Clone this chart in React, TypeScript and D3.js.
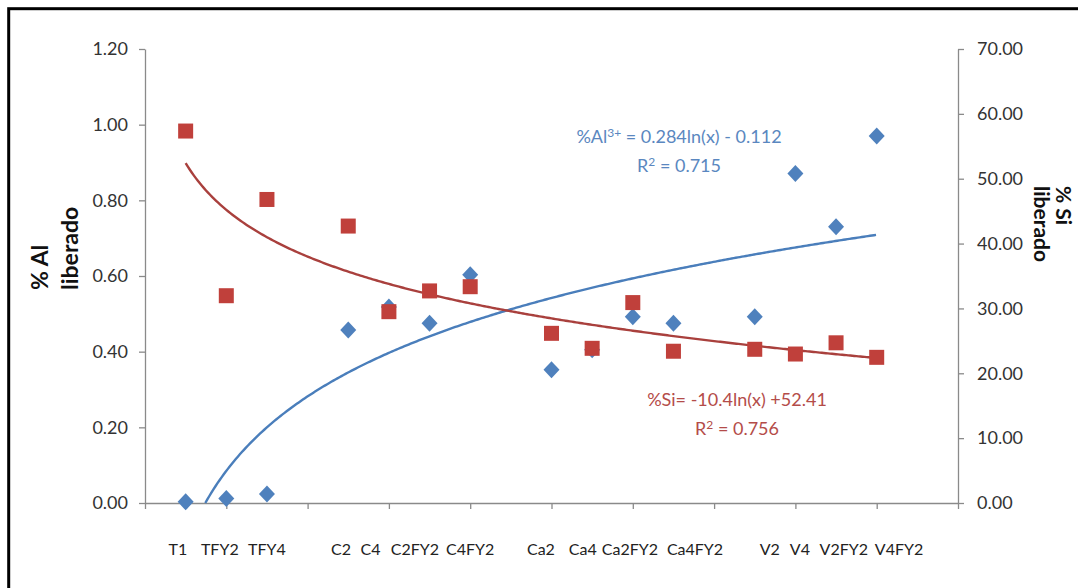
import React, { useEffect, useRef } from "react";
import * as d3 from "d3";

// samples, in the order they sit on the x axis
const categories = ["T1", "TFY2", "TFY4", "C2", "C4", "C2FY2", "C4FY2", "Ca2", "Ca4", "Ca2FY2", "Ca4FY2", "V2", "V4", "V2FY2", "V4FY2"];
const xPositions = [1, 2, 3, 5, 6, 7, 8, 10, 11, 12, 13, 15, 16, 17, 18];
// the labels come from a spaced text line, so they don't sit exactly under the points
const labelPositions = [0.81, 1.84, 3.0, 4.82, 5.55, 6.64, 8.0, 9.74, 10.77, 11.93, 13.53, 15.37, 16.11, 17.19, 18.55];

const alValues = [0.003, 0.012, 0.024, 0.457, 0.518, 0.475, 0.603, 0.352, 0.405, 0.492, 0.475, 0.492, 0.871, 0.73, 0.97];
const siValues = [57.35, 31.96, 46.8, 42.7, 29.5, 32.7, 33.35, 26.16, 23.85, 30.9, 23.4, 23.7, 22.97, 24.7, 22.46];

const leftTicks = [0, 0.2, 0.4, 0.6, 0.8, 1.0, 1.2];
const rightTicks = [0, 10, 20, 30, 40, 50, 60, 70];
const xTicks = [0, 2, 4, 6, 8, 10, 12, 14, 16, 18, 20];

// log trendlines y = a ln(x) + b
const alFit = { a: 0.284, b: -0.112 };
const siFit = { a: -10.4, b: 52.41 };

const BLUE = "#4f81bd";
const RED = "#c0403b";
const FONT = "Lato, 'Open Sans', sans-serif";

const App = () => {
  const svgRef = useRef(null);

  const W = 1078;
  const H = 588;
  const margin = { top: 49, right: 120, bottom: 85, left: 145 };
  const width = W - margin.left - margin.right; // 813
  const height = H - margin.top - margin.bottom; // 454

  useEffect(() => {
    const svg = d3.select(svgRef.current);
    svg.selectAll("*").remove();

    svg.append("rect").attr("width", W).attr("height", H).attr("fill", "white");

    // frame, cut off on the right and bottom like the source
    svg
      .append("rect")
      .attr("x", 8.7)
      .attr("y", 8.7)
      .attr("width", 1200)
      .attr("height", 1200)
      .attr("fill", "none")
      .attr("stroke", "#000")
      .attr("stroke-width", 3);

    const g = svg.append("g").attr("transform", "translate(" + margin.left + "," + margin.top + ")");

    const x = d3.scaleLinear().domain([0, 20]).range([0, width]);
    const yL = d3.scaleLinear().domain([0, 1.2]).range([height, 0]);
    const yR = d3.scaleLinear().domain([0, 70]).range([height, 0]);

    const styleAxis = (ax) => {
      ax.select(".domain").attr("stroke", "#8a8a8a").attr("stroke-width", 1.3);
      ax.selectAll(".tick line").attr("stroke", "#8a8a8a").attr("stroke-width", 1.3);
      ax.selectAll(".tick text")
        .attr("fill", "#333")
        .attr("font-family", FONT)
        .attr("font-size", 18);
    };

    // x axis
    const xAx = g
      .append("g")
      .attr("transform", "translate(0," + height + ")")
      .call(d3.axisBottom(x).tickValues(xTicks).tickSize(6).tickSizeOuter(0).tickFormat(() => ""));
    styleAxis(xAx);

    // left axis
    const lAx = g
      .append("g")
      .call(
        d3
          .axisLeft(yL)
          .tickValues(leftTicks)
          .tickSize(6)
          .tickSizeOuter(0)
          .tickPadding(11)
          .tickFormat(d3.format(".2f"))
      );
    styleAxis(lAx);

    // right axis
    const rAx = g
      .append("g")
      .attr("transform", "translate(" + width + ",0)")
      .call(
        d3
          .axisRight(yR)
          .tickValues(rightTicks)
          .tickSize(6)
          .tickSizeOuter(0)
          .tickPadding(13)
          .tickFormat(d3.format(".2f"))
      );
    styleAxis(rAx);

    // category labels
    g.append("g")
      .selectAll("text")
      .data(categories)
      .join("text")
      .attr("x", (d, i) => x(labelPositions[i]))
      .attr("y", height + 52)
      .attr("text-anchor", "middle")
      .attr("font-family", FONT)
      .attr("font-size", 16)
      .attr("fill", "#222")
      .text((d) => d);

    // trendlines
    const alStart = Math.exp(-alFit.b / alFit.a);
    const alCurve = d3.range(alStart, 18.001, 0.05).map((v) => [v, alFit.a * Math.log(v) + alFit.b]);
    const siCurve = d3.range(1, 18.001, 0.05).map((v) => [v, siFit.a * Math.log(v) + siFit.b]);

    g.append("path")
      .datum(alCurve)
      .attr("fill", "none")
      .attr("stroke", "#4a7ebb")
      .attr("stroke-width", 2.4)
      .attr(
        "d",
        d3
          .line()
          .x((d) => x(d[0]))
          .y((d) => yL(d[1]))
      );

    g.append("path")
      .datum(siCurve)
      .attr("fill", "none")
      .attr("stroke", "#a9403d")
      .attr("stroke-width", 2.4)
      .attr(
        "d",
        d3
          .line()
          .x((d) => x(d[0]))
          .y((d) => yR(d[1]))
      );

    // %Al diamonds
    g.append("g")
      .selectAll("path")
      .data(alValues)
      .join("path")
      .attr("transform", (d, i) => "translate(" + x(xPositions[i]) + "," + yL(d) + ")")
      .attr("d", "M0,-8.5L8,0L0,8.5L-8,0Z")
      .attr("fill", BLUE);

    // %Si squares
    g.append("g")
      .selectAll("rect")
      .data(siValues)
      .join("rect")
      .attr("x", (d, i) => x(xPositions[i]) - 7.5)
      .attr("y", (d) => yR(d) - 7.5)
      .attr("width", 15)
      .attr("height", 15)
      .attr("fill", RED);

    // equations
    const eq = (cx, y1, color, pre, sup, post, r2) => {
      const t1 = svg
        .append("text")
        .attr("x", cx)
        .attr("y", y1)
        .attr("text-anchor", "middle")
        .attr("font-family", FONT)
        .attr("font-size", 18)
        .attr("fill", color);
      t1.append("tspan").text(pre);
      if (sup) {
        t1.append("tspan").attr("dy", -6).attr("font-size", 12).text(sup);
        t1.append("tspan").attr("dy", 6).text(post);
      } else {
        t1.append("tspan").text(post);
      }
      const t2 = svg
        .append("text")
        .attr("x", cx)
        .attr("y", y1 + 29)
        .attr("text-anchor", "middle")
        .attr("font-family", FONT)
        .attr("font-size", 18)
        .attr("fill", color);
      t2.append("tspan").text("R");
      t2.append("tspan").attr("dy", -6).attr("font-size", 12).text("2");
      t2.append("tspan").attr("dy", 6).text(" = " + r2);
    };
    eq(679, 143, "#5a87c0", "%Al", "3+", " = 0.284ln(x) - 0.112", "0.715");
    eq(737, 406, "#b44c49", "%Si= -10.4ln(x) +52.41", null, "", "0.756");

    // axis titles
    const leftT = svg
      .append("text")
      .attr("transform", "translate(48,290) rotate(-90)")
      .attr("font-family", FONT)
      .attr("font-weight", "bold")
      .attr("font-size", 23)
      .attr("fill", "#111");
    leftT.append("tspan").attr("x", 0).attr("y", 0).text("% Al");
    leftT.append("tspan").attr("x", 0).attr("y", 30).text("liberado");

    const rightT = svg
      .append("text")
      .attr("transform", "translate(1056,186) rotate(90)")
      .attr("font-family", FONT)
      .attr("font-weight", "bold")
      .attr("font-size", 21)
      .attr("fill", "#111");
    rightT.append("tspan").attr("x", 0).attr("y", 0).text("% Si");
    rightT.append("tspan").attr("x", 0).attr("y", 22).text("liberado");
  }, []);

  return (
    <svg
      ref={svgRef}
      width={W}
      height={H}
      style={{ position: "fixed", left: 0, top: 0, display: "block" }}
    ></svg>
  );
};

export default App;
